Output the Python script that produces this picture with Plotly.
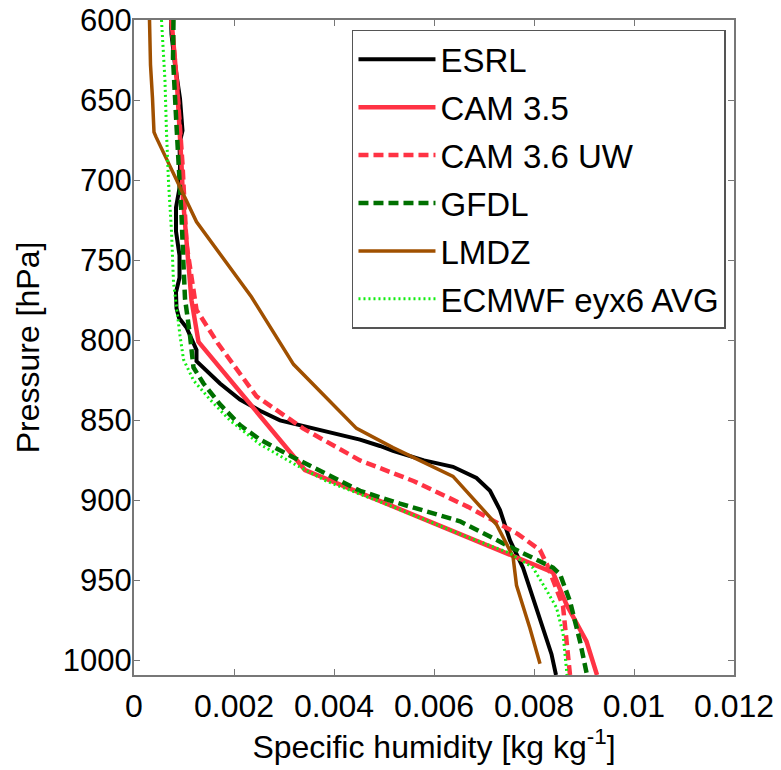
import plotly.graph_objects as go

# specific humidity profiles [kg/kg] vs pressure [hPa]
esrl_p = [600, 609, 628, 649, 669, 677, 691, 705, 717, 732, 747, 761, 770, 780, 786,
          792, 799, 806, 813, 819, 827, 837, 844, 850, 854, 858, 862, 866, 869, 875,
          879, 886, 894, 906, 925, 942, 961, 979, 996, 1009]
esrl_q = [0.00074, 0.00075, 0.00082, 0.00092, 0.00097, 0.00091, 0.00092, 0.00091, 0.00084, 0.00084,
          0.00091, 0.00091, 0.00084, 0.00085, 0.00090, 0.00105, 0.00115, 0.00125, 0.00125, 0.00145,
          0.00172, 0.00212, 0.00252, 0.00292, 0.00345, 0.00398, 0.00452, 0.00492, 0.00518, 0.00580,
          0.00638, 0.00685, 0.00712, 0.00732, 0.00752, 0.00778, 0.00798, 0.00818, 0.00835, 0.00844]

cam35_p = [600, 640, 690, 712, 775, 801, 881, 921, 945, 965, 988, 1009]
cam35_q = [0.00075, 0.00086, 0.00095, 0.00098, 0.00115, 0.00129, 0.00342, 0.00652, 0.00838, 0.00865, 0.00905, 0.00926]

cam36_p = [600, 640, 690, 740, 781, 802, 835, 855, 875, 888, 904, 921, 931, 940, 966, 994, 1009]
cam36_q = [0.00075, 0.00086, 0.00097, 0.00105, 0.00125, 0.00168, 0.00245, 0.00338, 0.00452, 0.00560,
           0.00668, 0.00768, 0.00812, 0.00826, 0.00858, 0.00868, 0.00872]

gfdl_p = [600, 624, 666, 701, 722, 753, 774, 797, 817, 827, 840, 853, 862, 873, 894, 902, 913, 929,
          942, 946, 963, 988, 1009]
gfdl_q = [0.00079, 0.00078, 0.00085, 0.00092, 0.00095, 0.00099, 0.00102, 0.00112, 0.00119, 0.00139,
          0.00172, 0.00212, 0.00252, 0.00318, 0.00452, 0.00532, 0.00652, 0.00752, 0.00838, 0.00852,
          0.00872, 0.00892, 0.00906]

lmdz_p = [600, 628, 649, 670, 673, 726, 773, 815, 855, 867, 885, 915, 935, 953, 980, 1002]
lmdz_q = [0.00031, 0.00033, 0.00037, 0.00040, 0.00044, 0.00125, 0.00235, 0.00319, 0.00445, 0.00518,
          0.00638, 0.00725, 0.00758, 0.00765, 0.00792, 0.00812]

ecmwf_p = [600, 638, 670, 701, 732, 764, 797, 812, 825, 837, 850, 865, 877, 888, 904, 921, 933,
           942, 956, 967, 983, 1009]
ecmwf_q = [0.00055, 0.00062, 0.00065, 0.00069, 0.00075, 0.00079, 0.00092, 0.00099, 0.00119, 0.00152,
           0.00192, 0.00252, 0.00319, 0.00385, 0.00518, 0.00652, 0.00752, 0.00798, 0.00825, 0.00845,
           0.00858, 0.00866]

series = [
    ("ESRL", esrl_q, esrl_p, "#000000", "solid", 4),
    ("CAM 3.5", cam35_q, cam35_p, "#FF3344", "solid", 4.5),
    ("CAM 3.6 UW", cam36_q, cam36_p, "#FF3344", "10px,5px", 4.5),
    ("GFDL", gfdl_q, gfdl_p, "#007000", "10px,5px", 4.5),
    ("LMDZ", lmdz_q, lmdz_p, "#A05000", "solid", 3.5),
    ("ECMWF eyx6 AVG", ecmwf_q, ecmwf_p, "#11EE11", "2px,3px", 3),
]

fig = go.Figure()
for i, (name, q, p, col, dash, w) in enumerate(series):
    fig.add_trace(go.Scatter(x=q, y=p, mode="lines", name=name, legendgroup=str(i),
                             line=dict(color=col, dash=dash, width=w)))

font = "Liberation Sans, Arial, sans-serif"
fig.update_layout(
    width=781, height=770,
    margin=dict(l=134, r=47, t=20, b=95),
    paper_bgcolor="white", plot_bgcolor="white",
    font=dict(family=font, color="black", size=31),
    showlegend=True,
    legend=dict(x=0.3633, y=0.985, xanchor="left", yanchor="top",
                bgcolor="white", bordercolor="#555555", borderwidth=1.5,
                font=dict(size=33), tracegroupgap=2, itemwidth=77),
    xaxis=dict(range=[0, 0.012], dtick=0.002, tick0=0, showgrid=False, zeroline=False,
               showline=True, linecolor="#777777", linewidth=2, mirror="ticks",
               ticks="inside", ticklen=6, tickcolor="#777777", tickwidth=1,
               tickfont=dict(size=32), ticklabelstandoff=2, automargin=False,
               title=dict(text="Specific humidity [kg kg<sup>-1</sup>]", font=dict(size=32), standoff=0)),
    yaxis=dict(range=[1009, 600], dtick=50, tick0=600, showgrid=False, zeroline=False,
               showline=True, linecolor="#777777", linewidth=2, mirror="ticks",
               ticks="inside", ticklen=6, tickcolor="#777777", tickwidth=1,
               tickfont=dict(size=31), ticklabelstandoff=-6, automargin=False,
               title=dict(text="Pressure [hPa]", font=dict(size=32), standoff=14)),
)

fig.write_html("out.html", config={"displayModeBar": False},
               post_script="document.body.style.margin='0';")
